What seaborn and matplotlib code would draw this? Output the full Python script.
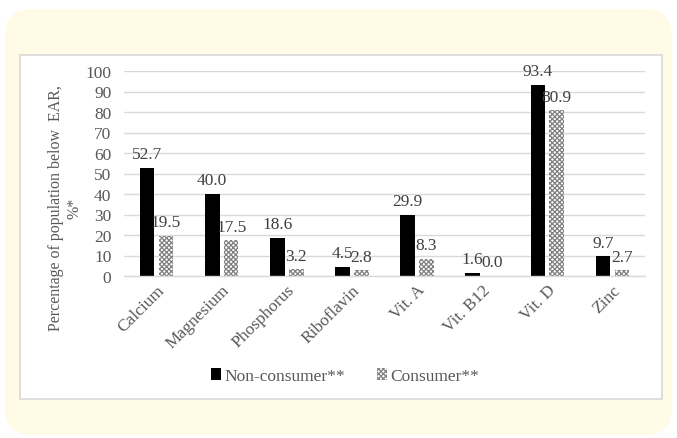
import matplotlib
matplotlib.use("Agg")
import matplotlib.pyplot as plt
import seaborn as sns
import pandas as pd
from matplotlib.patches import FancyBboxPatch, Rectangle

categories = ["Calcium", "Magnesium", "Phosphorus", "Riboflavin", "Vit. A", "Vit. B12", "Vit. D", "Zinc"]
non_consumer = [52.7, 40.0, 18.6, 4.5, 29.9, 1.6, 93.4, 9.7]
consumer = [19.5, 17.5, 3.2, 2.8, 8.3, 0.0, 80.9, 2.7]
series = ["Non-consumer**", "Consumer**"]
yticks = [0, 10, 20, 30, 40, 50, 60, 70, 80, 90, 100]

df = pd.DataFrame({
    "nutrient": categories * 2,
    "value": non_consumer + consumer,
    "group": [series[0]] * len(categories) + [series[1]] * len(categories),
})

sns.set_theme(style="white")
plt.rcParams["font.family"] = ["Liberation Serif", "DejaVu Serif"]
plt.rcParams["hatch.linewidth"] = 0.9
plt.rcParams["hatch.color"] = "#808080"
txt = "#595959"
fs = 12.5

fig = plt.figure(figsize=(6.77, 4.39), dpi=100)
fig.patch.set_facecolor("white")
W, H = 677, 439
# cream rounded background
fig.patches.append(FancyBboxPatch((5 / W, 3 / H), 667 / W, 426 / H,
                                  boxstyle="round,pad=0,rounding_size=0.04",
                                  transform=fig.transFigure, facecolor="#fffbe7",
                                  edgecolor="none", zorder=-10, mutation_aspect=W / H))
# white panel
fig.patches.append(Rectangle((20 / W, 39 / H), 642 / W, 344 / H, transform=fig.transFigure,
                             facecolor="white", edgecolor="#d9d9d9", linewidth=1.2, zorder=-9))

ax = fig.add_axes([124 / W, 1 - 277 / H, 521 / W, 205 / H])
ax.set_facecolor("none")
sns.barplot(data=df, x="nutrient", y="value", hue="group", hue_order=series,
            palette=["black", "white"], width=0.58, gap=0.22, ax=ax, legend=False,
            edgecolor="none", linewidth=0)
for p in ax.containers[1]:
    p.set_hatch("xxxxxxx")
    p.set_edgecolor("#808080")
    p.set_linewidth(0)

for cont in ax.containers:
    ax.bar_label(cont, fmt="%.1f", padding=4, fontsize=fs, color="#404040", clip_on=False)

ax.set_ylim(0, 100)
ax.set_yticks(yticks)
ax.yaxis.grid(True, color="#d9d9d9", linewidth=1)
ax.set_axisbelow(True)
for s in ["top", "right", "left"]:
    ax.spines[s].set_visible(False)
ax.spines["bottom"].set_color("#d9d9d9")
ax.spines["bottom"].set_linewidth(1)
ax.tick_params(axis="both", length=0, labelsize=fs, labelcolor=txt)
ax.tick_params(axis="y", pad=9)
ax.tick_params(axis="x", pad=4)
ax.set_xticks(range(len(categories)))
ax.set_xticklabels(categories, rotation=45, ha="right", rotation_mode="anchor")
ax.set_xlabel("")
ax.set_ylabel("Percentage of population below  EAR,\n%*", fontsize=11.5, color=txt,
              multialignment="center", linespacing=1.2)
ax.yaxis.set_label_coords(-0.08, 0.335)

leg = fig.legend(ax.containers, series, loc="center", bbox_to_anchor=(0.51, 1 - 377 / H),
                 ncol=2, frameon=False, fontsize=fs, handlelength=0.6, handleheight=0.7,
                 handletextpad=0.2, columnspacing=1.8)
for t in leg.get_texts():
    t.set_color(txt)

fig.savefig("out.png", dpi=100)
